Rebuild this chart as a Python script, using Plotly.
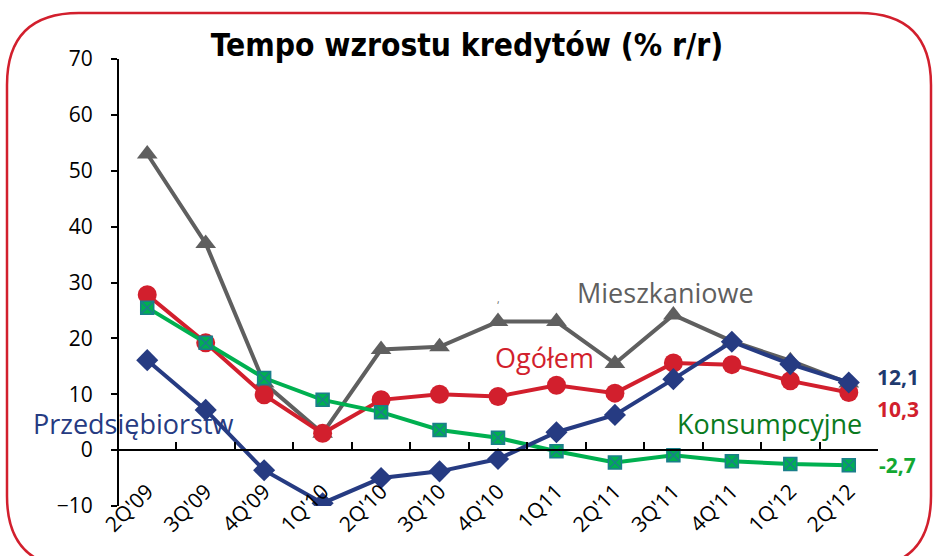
import plotly.graph_objects as go

categories = ["2Q'09", "3Q'09", "4Q'09", "1Q'10", "2Q'10", "3Q'10", "4Q'10",
              "1Q11", "2Q'11", "3Q'11", "4Q'11", "1Q'12", "2Q'12"]
mieszkaniowe = [53.0, 37.0, 12.0, 3.0, 18.0, 18.5, 23.0, 23.0, 15.5, 24.2, 19.5, 16.0, 12.0]
ogolem = [27.8, 19.2, 9.9, 3.0, 9.0, 10.0, 9.6, 11.6, 10.2, 15.6, 15.3, 12.4, 10.3]
przedsiebiorstw = [16.1, 7.2, -3.6, -9.5, -5.0, -3.8, -1.6, 3.2, 6.3, 12.7, 19.4, 15.4, 12.1]
konsumpcyjne = [25.5, 19.2, 12.9, 9.0, 6.8, 3.6, 2.2, -0.2, -2.2, -0.9, -2.0, -2.5, -2.7]
y_ticks = [-10, 0, 10, 20, 30, 40, 50, 60, 70]

GRAY = "#5f5f5f"
RED = "#d21f2d"
NAVY = "#263b82"
GREEN = "#00b050"
TEAL = "#1a7f8a"
DKGREEN = "#0a7a1e"
FONT = "Open Sans"

W, H = 937, 556
L, R, T, B = 118, 59, 59, 50
PW, PH = W - L - R, H - T - B


def px(x):
    return (x - L) / PW


def py(y):
    return (H - B - y) / PH


fig = go.Figure()
fig.add_trace(go.Scatter(x=categories, y=mieszkaniowe, mode="lines+markers",
                         line=dict(color=GRAY, width=4),
                         marker=dict(symbol="triangle-up", size=18, color=GRAY),
                         name="Mieszkaniowe"))
fig.add_trace(go.Scatter(x=categories, y=ogolem, mode="lines+markers",
                         line=dict(color=RED, width=4),
                         marker=dict(symbol="circle", size=19, color=RED),
                         name="Ogółem"))
fig.add_trace(go.Scatter(x=categories, y=konsumpcyjne, mode="lines+markers",
                         line=dict(color=GREEN, width=4),
                         marker=dict(symbol="square-x", size=13, color=GREEN,
                                     line=dict(color=TEAL, width=1.5)),
                         name="Konsumpcyjne"))
fig.add_trace(go.Scatter(x=categories, y=przedsiebiorstw, mode="lines+markers",
                         line=dict(color=NAVY, width=4),
                         marker=dict(symbol="diamond", size=17, color=NAVY),
                         name="Przedsiębiorstw"))
# invisible trace on the label axis so it gets the same categories
fig.add_trace(go.Scatter(x=categories, y=ogolem, xaxis="x2", mode="markers",
                         marker=dict(opacity=0), hoverinfo="skip",
                         showlegend=False))

# rounded red frame
x0, x1, y0, y1, r = 7, 931, 13, 568, 72
path = (f"M {px(x0 + r)},{py(y0)} L {px(x1 - r)},{py(y0)} "
        f"Q {px(x1)},{py(y0)} {px(x1)},{py(y0 + r)} "
        f"L {px(x1)},{py(y1 - r)} Q {px(x1)},{py(y1)} {px(x1 - r)},{py(y1)} "
        f"L {px(x0 + r)},{py(y1)} Q {px(x0)},{py(y1)} {px(x0)},{py(y1 - r)} "
        f"L {px(x0)},{py(y0 + r)} Q {px(x0)},{py(y0)} {px(x0 + r)},{py(y0)} Z")
fig.add_shape(type="path", path=path, xref="paper", yref="paper",
              line=dict(color=RED, width=2.5), layer="below")

ann = [
    dict(text="Mieszkaniowe", x=8.87, y=28.2, color=GRAY),
    dict(text="Ogółem", x=6.79, y=16.5, color=RED),
    dict(text="Przedsiębiorstw", x=-0.23, y=4.7, color=NAVY),
    dict(text="Konsumpcyjne", x=10.64, y=4.7, color=DKGREEN),
]
for a in ann:
    fig.add_annotation(x=a["x"], y=a["y"], xref="x", yref="y", text=a["text"],
                       showarrow=False,
                       font=dict(family=FONT, size=27, color=a["color"], weight=500))

ends = [(przedsiebiorstw[-1], "#1f3a6e", 6), (ogolem[-1], RED, -16),
        (konsumpcyjne[-1], "#13a832", 0)]
for val, col, shift in ends:
    fig.add_annotation(x=categories[-1], y=val, xref="x", yref="y",
                       text=f"{val:.1f}".replace(".", ","), showarrow=False,
                       xshift=49, yshift=shift,
                       font=dict(family=FONT, size=21, color=col, weight="bold"))

fig.add_annotation(x=6.0, y=27.0, xref="x", yref="y", text=",", showarrow=False,
                   font=dict(family=FONT, size=10, color=GRAY))

fig.update_layout(
    width=W, height=H,
    margin=dict(l=L, r=R, t=T, b=B, autoexpand=False),
    paper_bgcolor="white", plot_bgcolor="white",
    showlegend=False,
    title=dict(text="Tempo wzrostu kredytów (% r/r)", x=467 / W, xref="container",
               xanchor="center", y=1 - 45 / H, yanchor="middle",
               font=dict(family="DejaVu Sans Condensed, Roboto", size=31.5,
                         color="black", weight="bold")),
    xaxis=dict(type="category", range=[-0.5, 12.5], anchor="free",
               position=py(450), showline=True, linecolor="black", linewidth=2,
               ticks="inside", ticklen=7, tickwidth=1.5, tickcolor="black",
               tickson="boundaries", showticklabels=False, showgrid=False,
               zeroline=False, automargin=False),
    xaxis2=dict(type="category", range=[-0.5, 12.5], anchor="free",
                overlaying="x", side="bottom", position=py(474),
                showline=False, ticks="", tickangle=-45, showgrid=False,
                zeroline=False, automargin=True,
                tickfont=dict(family=FONT, size=21, color="black")),
    yaxis=dict(range=[-10, 70], tickvals=y_ticks, anchor="free", position=0,
               showline=True, linecolor="black", linewidth=2, ticks="outside",
               ticklen=6, tickwidth=1.5, tickcolor="black", showgrid=False,
               zeroline=False, automargin=False, ticklabelstandoff=14,
               tickfont=dict(family=FONT, size=21, color="black")),
)

fig.write_html("out.html", config={"displayModeBar": False},
               post_script="document.body.style.margin='0px';")
